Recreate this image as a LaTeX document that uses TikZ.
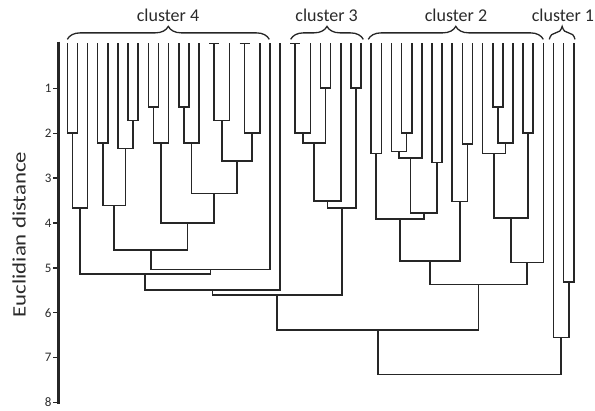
\documentclass[tikz,border=0pt]{standalone}
\usepackage{graphicx}
\usepackage{fontspec}
\setmainfont{Carlito}
\usetikzlibrary{calc,decorations.pathreplacing}

\definecolor{linecol}{HTML}{262626}
\definecolor{textcol}{HTML}{2A2A2A}

% join two subtrees #2 and #3 into #1 at height #4
\newcommand{\dmerge}[4]{%
  \path ($(#2)!0.5!(#3)$) coordinate (#1x) (0,#4) coordinate (#1y);
  \coordinate (#1) at (#1x |- #1y);
  \draw[link] (#2) |- (#1) -| (#3);
}

\tikzset{
  link/.style={line width=1.6pt, color=linecol},
  axisline/.style={line width=2.4pt, color=linecol},
  tickmark/.style={line width=1.3pt, color=linecol},
  ticklabel/.style={left, inner sep=0.6pt, text=textcol, font=\fontsize{13}{13}\selectfont},
  clusterlabel/.style={anchor=base, text=textcol, font=\fontsize{18}{18}\selectfont},
  clusterbrace/.style={decorate, decoration={brace, amplitude=13pt}, line width=1.3pt, color=linecol},
}

\begin{document}
\begin{tikzpicture}[x=10.13pt, y=-44.9pt]
        \useasboundingbox (-6.644,-0.9666) rectangle (52.093,8.187);

        % axis
        \draw[axisline] (-0.85,-0.04) -- (-0.85,8.04);
        \foreach \t in {1,...,8}
          \draw[tickmark] (-0.85,\t) -- ++(-0.6,0) node[ticklabel] (t\t) {\t};
        \node[rotate=90, text=textcol, font=\fontsize{19}{19}\selectfont] (ylab) at (-4.77,4.256)
          {\scalebox{1.2}[1]{Euclidian distance}};

        % leaves
        \foreach \i in {0,...,50}
          \coordinate (l\i) at (\i,0);

        % cluster 4
        \dmerge{a1}{l0}{l1}{1.99}
        \dmerge{a2}{a1}{l2}{3.66}
        \dmerge{a3}{l3}{l4}{2.22}
        \dmerge{a4}{l6}{l7}{1.72}
        \dmerge{a5}{l5}{a4}{2.34}
        \dmerge{a6}{a3}{a5}{3.61}
        \dmerge{a7}{l8}{l9}{1.41}
        \dmerge{a8}{a7}{l10}{2.22}
        \dmerge{a9}{l11}{l12}{1.41}
        \dmerge{a10}{a9}{l13}{2.22}
        \dmerge{a11}{l14}{l15}{0}
        \dmerge{a12}{a11}{l16}{1.72}
        \dmerge{a13}{l17}{l18}{0}
        \dmerge{a14}{a13}{l19}{2.0}
        \dmerge{a15}{a12}{a14}{2.62}
        \dmerge{a16}{a10}{a15}{3.34}
        \dmerge{a17}{a8}{a16}{4.0}
        \dmerge{a18}{a6}{a17}{4.6}
        \dmerge{a19}{a18}{l20}{5.04}
        \dmerge{a20}{a2}{a19}{5.14}
        \dmerge{a21}{a20}{l21}{5.49}

        % cluster 3
        \dmerge{b1}{l22}{l23}{0}
        \dmerge{b2}{b1}{l24}{1.99}
        \dmerge{b3}{l25}{l26}{1.0}
        \dmerge{b4}{b2}{b3}{2.22}
        \dmerge{b5}{b4}{l27}{3.51}
        \dmerge{b6}{l28}{l29}{1.0}
        \dmerge{b7}{b5}{b6}{3.67}

        % cluster 2
        \dmerge{c1}{l30}{l31}{2.45}
        \dmerge{c2}{l33}{l34}{1.99}
        \dmerge{c3}{l32}{c2}{2.41}
        \dmerge{c4}{c3}{l35}{2.55}
        \dmerge{c5}{l36}{l37}{2.65}
        \dmerge{c6}{c4}{c5}{3.78}
        \dmerge{c7}{c1}{c6}{3.91}
        \dmerge{c8}{l39}{l40}{2.24}
        \dmerge{c9}{l38}{c8}{3.52}
        \dmerge{c10}{c7}{c9}{4.85}
        \dmerge{c11}{l42}{l43}{1.41}
        \dmerge{c12}{c11}{l44}{2.22}
        \dmerge{c13}{l41}{c12}{2.45}
        \dmerge{c14}{l45}{l46}{1.99}
        \dmerge{c15}{c13}{c14}{3.89}
        \dmerge{c16}{c15}{l47}{4.88}
        \dmerge{c17}{c10}{c16}{5.37}

        % cluster 1
        \dmerge{e1}{l49}{l50}{5.31}
        \dmerge{e2}{l48}{e1}{6.55}

        % upper levels
        \dmerge{d1}{a21}{b7}{5.6}
        \dmerge{d2}{d1}{c17}{6.38}
        \dmerge{d3}{d2}{e2}{7.37}

        % braces and labels
        \draw[clusterbrace] (0,-0.09) -- (19.94,-0.09);
        \draw[clusterbrace] (22.05,-0.09) -- (29.22,-0.09);
        \draw[clusterbrace] (29.71,-0.09) -- (46.99,-0.09);
        \draw[clusterbrace] (47.58,-0.09) -- (50.12,-0.09);
        \node[clusterlabel] (k4) at (9.94,-0.483) {cluster 4};
        \node[clusterlabel] (k3) at (25.6,-0.483) {cluster 3};
        \node[clusterlabel] (k2) at (38.37,-0.483) {cluster 2};
        \node[clusterlabel] (k1) at (48.93,-0.483) {cluster 1};
\end{tikzpicture}
\end{document}
